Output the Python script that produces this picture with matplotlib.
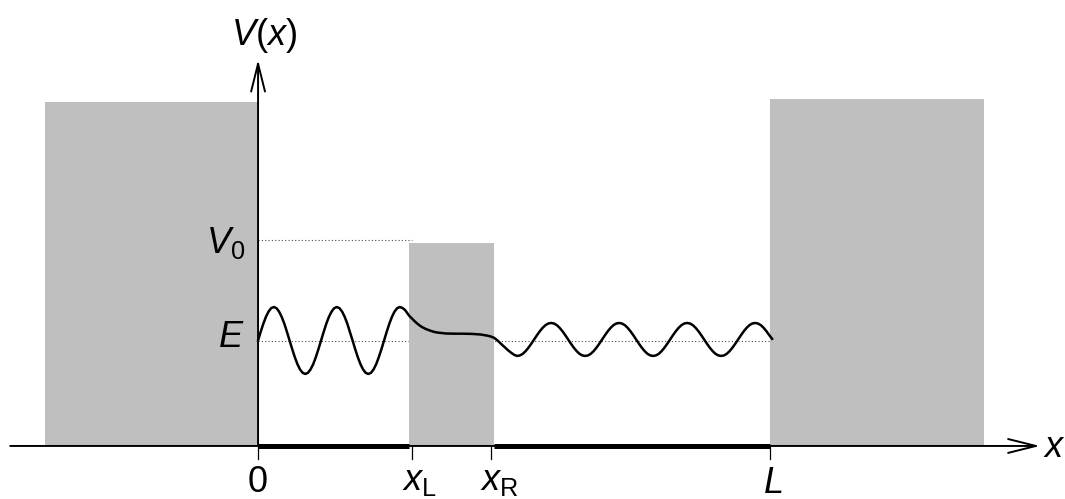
import matplotlib.pyplot as plt
from matplotlib.patches import Rectangle

plt.rcParams['font.family'] = ['Liberation Sans', 'DejaVu Sans']
plt.rcParams['mathtext.fontset'] = 'custom'
plt.rcParams['mathtext.rm'] = 'Liberation Sans'
plt.rcParams['mathtext.it'] = 'Liberation Sans:italic'
plt.rcParams['mathtext.sf'] = 'Liberation Sans'

# positions (x in units where L = 10, energy in units where V0 = 2)
x_L, x_R, L = 2.95, 4.61, 10.0
tick_pos = [0.0, 3.01, 4.55, 10.0]
V0, E = 2.0, 1.02

# gray regions: (left, right, height)
walls = [(-4.16, 0.0, 3.34), (x_L, x_R, 1.97), (L, 14.18, 3.37)]

# wave function sketch
# left of the barrier
wave_left_x = [0.000, 0.051, 0.103, 0.154, 0.205, 0.256, 0.308, 0.359, 0.410, 0.461,
               0.513, 0.564, 0.615, 0.667, 0.718, 0.769, 0.820, 0.872, 0.923, 0.974,
               1.025, 1.077, 1.128, 1.179, 1.230, 1.282, 1.333, 1.384, 1.436, 1.487,
               1.538, 1.589, 1.641, 1.692, 1.743, 1.794, 1.846, 1.897, 1.948, 2.000,
               2.051, 2.102, 2.153, 2.205, 2.256, 2.307, 2.358, 2.410, 2.461, 2.512,
               2.564, 2.615, 2.666, 2.717, 2.769, 2.820, 2.871, 2.910]
wave_left_y = [1.024, 1.108, 1.187, 1.254, 1.305, 1.338, 1.349, 1.338, 1.305, 1.254,
               1.187, 1.108, 1.024, 0.940, 0.862, 0.794, 0.743, 0.710, 0.699, 0.710,
               0.743, 0.794, 0.862, 0.940, 1.024, 1.108, 1.187, 1.254, 1.305, 1.338,
               1.349, 1.338, 1.305, 1.254, 1.187, 1.108, 1.024, 0.940, 0.862, 0.794,
               0.743, 0.710, 0.699, 0.710, 0.743, 0.794, 0.862, 0.940, 1.024, 1.108,
               1.187, 1.254, 1.305, 1.338, 1.349, 1.340, 1.320, 1.292]
# inside the barrier and just past it
wave_mid_x = [2.95, 3.00, 3.05, 3.10, 3.15, 3.20, 3.28, 3.36, 3.44, 3.52,
              3.67, 3.85, 4.02, 4.18, 4.35, 4.49, 4.55, 4.61, 4.67, 4.72,
              4.77, 4.82, 4.88, 4.93, 5.00]
wave_mid_y = [1.265, 1.240, 1.215, 1.192, 1.172, 1.155, 1.135, 1.120, 1.107, 1.100,
              1.092, 1.090, 1.090, 1.088, 1.082, 1.070, 1.062, 1.050, 1.027, 1.003,
              0.980, 0.958, 0.930, 0.910, 0.885]
# right of the barrier
wave_right_x = [5.060, 5.115, 5.171, 5.226, 5.281, 5.337, 5.392, 5.447, 5.503, 5.558,
                5.613, 5.669, 5.724, 5.779, 5.835, 5.890, 5.945, 6.001, 6.056, 6.111,
                6.167, 6.222, 6.277, 6.333,
                6.388, 6.443, 6.499, 6.554, 6.609, 6.665, 6.720, 6.775, 6.831, 6.886,
                6.941, 6.997, 7.052, 7.107, 7.163, 7.218, 7.273, 7.329, 7.384, 7.439,
                7.495, 7.550, 7.605, 7.661,
                7.716, 7.771, 7.827, 7.882, 7.937, 7.993, 8.048, 8.103, 8.159, 8.214,
                8.269, 8.325, 8.380, 8.435, 8.491, 8.546, 8.601, 8.657, 8.712, 8.767,
                8.823, 8.878, 8.933, 8.989,
                9.044, 9.099, 9.155, 9.210, 9.265, 9.321, 9.376, 9.431, 9.487, 9.542,
                9.597, 9.653, 9.708, 9.763, 9.819, 9.874, 9.929, 9.985, 10.040]
wave_right_y = [0.874, 0.879, 0.895, 0.921, 0.954, 0.993, 1.034, 1.075, 1.114, 1.147,
                1.173, 1.189, 1.194, 1.189, 1.173, 1.147, 1.114, 1.075, 1.034, 0.993,
                0.954, 0.921, 0.895, 0.879,
                0.874, 0.879, 0.895, 0.921, 0.954, 0.993, 1.034, 1.075, 1.114, 1.147,
                1.173, 1.189, 1.194, 1.189, 1.173, 1.147, 1.114, 1.075, 1.034, 0.993,
                0.954, 0.921, 0.895, 0.879,
                0.874, 0.879, 0.895, 0.921, 0.954, 0.993, 1.034, 1.075, 1.114, 1.147,
                1.173, 1.189, 1.194, 1.189, 1.173, 1.147, 1.114, 1.075, 1.034, 0.993,
                0.954, 0.921, 0.895, 0.879,
                0.874, 0.879, 0.895, 0.921, 0.954, 0.993, 1.034, 1.075, 1.114, 1.147,
                1.173, 1.189, 1.194, 1.189, 1.173, 1.147, 1.114, 1.075, 1.040]

wave_x = wave_left_x + wave_mid_x + wave_right_x
wave_y = wave_left_y + wave_mid_y + wave_right_y

fig = plt.figure(figsize=(10.65, 4.99), dpi=100)
ax = fig.add_axes([0, 0, 1, 1])
ax.set_xlim(-5.04, 15.76)
ax.set_ylim(-0.515, 4.33)
ax.axis('off')

for x0, x1, h in walls:
    ax.add_patch(Rectangle((x0, 0), x1 - x0, h, facecolor='#bfbfbf', lw=0, zorder=1))

# dotted guide lines
ax.plot([0, x_L + 0.06], [V0, V0], ls=(0, (1, 2)), lw=0.8, color='0.3', zorder=0.5)
ax.plot([0, L + 0.04], [E, E], ls=(0, (1, 2)), lw=0.8, color='0.3', zorder=0.5)

# axes with open arrow heads
arr = dict(arrowstyle='->,head_length=0.4,head_width=0.1', lw=1.4, color='k',
           shrinkA=0, shrinkB=0, mutation_scale=50)
ax.annotate('', xy=(15.27, 0), xytext=(-4.84, 0), arrowprops=arr, zorder=2)
ax.annotate('', xy=(0, 3.75), xytext=(0, 0), arrowprops=arr, zorder=2)

# thick segments on the x axis
ax.plot([0, x_L], [0, 0], lw=3.6, color='k', solid_capstyle='butt', zorder=2)
ax.plot([x_R, L], [0, 0], lw=3.6, color='k', solid_capstyle='butt', zorder=2)

for t in tick_pos:
    ax.plot([t, t], [0, -0.125], lw=0.9, color='k', zorder=2)

ax.plot(wave_x, wave_y, color='k', lw=1.8, zorder=3, solid_joinstyle='round')

fs = 26
ax.text(-0.53, 3.89, '$V(x)$', fontsize=fs, ha='left', va='baseline')
ax.text(15.33, -0.107, '$x$', fontsize=fs, ha='left', va='baseline')
ax.text(-0.25, 1.87, '$V_0$', fontsize=fs, ha='right', va='baseline')
ax.text(-0.27, 0.96, '$E$', fontsize=fs, ha='right', va='baseline')
ax.text(0.0, -0.445, '0', fontsize=fs, ha='center', va='baseline')
ax.text(2.81, -0.427, r'$x_\mathrm{L}$', fontsize=fs, ha='left', va='baseline')
ax.text(4.34, -0.427, r'$x_\mathrm{R}$', fontsize=fs, ha='left', va='baseline')
ax.text(9.86, -0.456, '$L$', fontsize=fs, ha='left', va='baseline')

plt.savefig('out.png', dpi=100)
